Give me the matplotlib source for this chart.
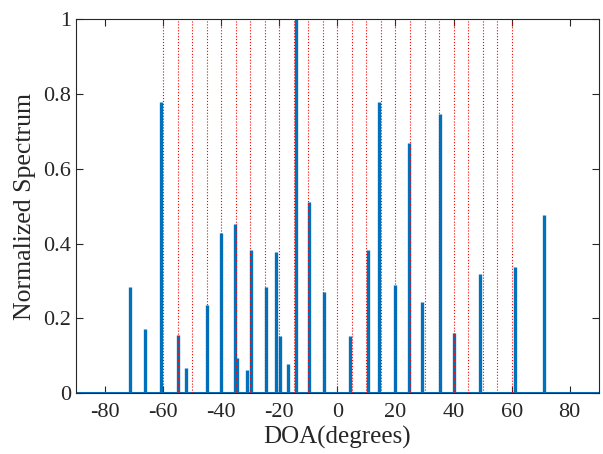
import numpy as np
import matplotlib.pyplot as plt

plt.rcParams['font.family'] = ['Liberation Serif', 'DejaVu Serif']
plt.rcParams['axes.unicode_minus'] = False

# estimated peaks of the normalized spectrum
peak_doa = [-71.4, -66.1, -60.8, -54.8, -52.2, -44.9, -40.1, -35.2, -34.5, -31.2,
            -29.7, -24.6, -21.1, -19.9, -16.9, -14.1, -9.9, -4.6, 4.2, 10.5,
            14.5, 19.9, 24.8, 29.2, 35.5, 40.0, 49.0, 61.2, 71.3]
peak_val = [0.284, 0.171, 0.779, 0.156, 0.067, 0.236, 0.427, 0.453, 0.094, 0.063,
            0.383, 0.285, 0.377, 0.153, 0.079, 1.0, 0.511, 0.27, 0.153, 0.384,
            0.778, 0.289, 0.670, 0.244, 0.745, 0.162, 0.319, 0.336, 0.477]
true_doa = np.arange(-60, 61, 5)

xticks = [-80, -60, -40, -20, 0, 20, 40, 60, 80]
yticks = [0, 0.2, 0.4, 0.6, 0.8, 1]
ylabels = ['0', '0.2', '0.4', '0.6', '0.8', '1']

blue = '#0072BD'
axc = '#262626'

fig = plt.figure(figsize=(6.03, 4.54), dpi=100)
ax = fig.add_axes([0.126, 0.134, 0.867, 0.824])

ax.hlines(0, -90, 90, color=blue, lw=2.2, zorder=2)
ax.vlines(peak_doa, 0, peak_val, color=blue, lw=2.4, zorder=2)
for d in true_doa:
    ax.axvline(d, color='red', ls=':', lw=0.8, zorder=3)

ax.set_xlim(-90, 90)
ax.set_ylim(0, 1)
ax.set_xticks(xticks)
ax.set_yticks(yticks)
ax.set_yticklabels(ylabels)
ax.tick_params(direction='in', top=True, right=True, length=5, width=0.8,
               colors=axc, labelsize=16, labelcolor=axc)
ax.tick_params(axis='x', pad=7)
for s in ax.spines.values():
    s.set_color(axc)
    s.set_linewidth(0.8)

ax.set_xlabel('DOA(degrees)', fontsize=18, color=axc, labelpad=3)
ax.set_ylabel('Normalized Spectrum', fontsize=18.5, color=axc, labelpad=5)

fig.savefig('out.png', dpi=100)
